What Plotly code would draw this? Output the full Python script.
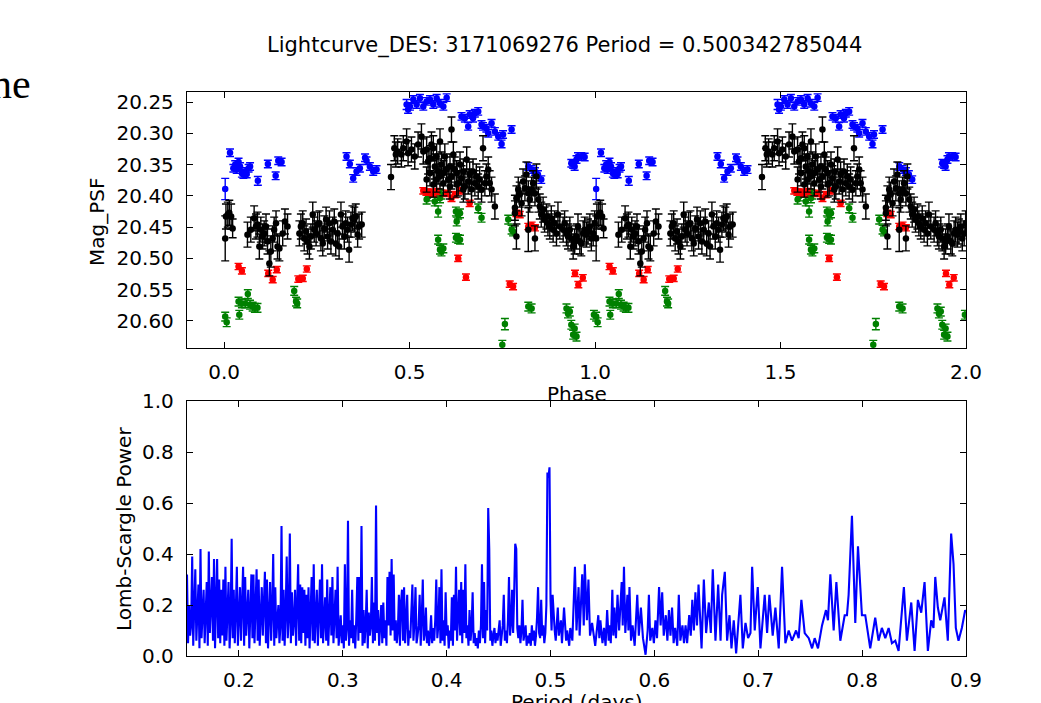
import numpy as np
import plotly.graph_objects as go

TITLE = "Lightcurve_DES: 3171069276 Period = 0.500342785044"

# ---------------- light curve (folded phase in [0,1), drawn at phase and phase+1) ----------------
# (phase, Mag_PSF, error)
blue_pts = [
    (0.003, 20.389, 0.017), (0.016, 20.331, 0.006), (0.025, 20.356, 0.006), (0.030, 20.350, 0.006),
    (0.034, 20.358, 0.006), (0.039, 20.346, 0.006), (0.043, 20.353, 0.006), (0.048, 20.364, 0.006),
    (0.052, 20.366, 0.006), (0.057, 20.361, 0.006), (0.061, 20.365, 0.006), (0.066, 20.356, 0.006),
    (0.070, 20.353, 0.006), (0.091, 20.376, 0.007), (0.118, 20.349, 0.006), (0.139, 20.368, 0.006),
    (0.146, 20.344, 0.006), (0.155, 20.346, 0.006),
    (0.330, 20.337, 0.006), (0.339, 20.349, 0.006), (0.348, 20.372, 0.006), (0.357, 20.361, 0.006),
    (0.366, 20.356, 0.006), (0.380, 20.339, 0.006), (0.384, 20.344, 0.006), (0.393, 20.353, 0.006),
    (0.402, 20.361, 0.006), (0.411, 20.358, 0.006),
    (0.492, 20.254, 0.008), (0.496, 20.262, 0.006), (0.501, 20.257, 0.006), (0.510, 20.246, 0.006),
    (0.519, 20.254, 0.006), (0.528, 20.244, 0.006), (0.537, 20.257, 0.006), (0.546, 20.249, 0.006),
    (0.555, 20.246, 0.006), (0.564, 20.254, 0.006), (0.573, 20.244, 0.006), (0.582, 20.252, 0.006),
    (0.591, 20.257, 0.006), (0.600, 20.243, 0.006),
    (0.640, 20.273, 0.006), (0.649, 20.276, 0.006), (0.658, 20.289, 0.006), (0.662, 20.270, 0.006),
    (0.671, 20.276, 0.006), (0.676, 20.268, 0.006), (0.685, 20.265, 0.006), (0.694, 20.286, 0.006),
    (0.698, 20.289, 0.006), (0.707, 20.292, 0.006), (0.712, 20.300, 0.006), (0.721, 20.284, 0.006),
    (0.730, 20.297, 0.006), (0.739, 20.305, 0.006), (0.748, 20.317, 0.006), (0.752, 20.302, 0.006),
    (0.775, 20.294, 0.006),
    (0.820, 20.353, 0.006), (0.829, 20.358, 0.006), (0.838, 20.361, 0.006), (0.846, 20.366, 0.006),
    (0.855, 20.374, 0.006),
    (0.936, 20.348, 0.006), (0.941, 20.350, 0.006), (0.945, 20.353, 0.006), (0.950, 20.342, 0.006),
    (0.954, 20.337, 0.006), (0.963, 20.337, 0.006), (0.972, 20.338, 0.006),
]

red_pts = [
    (0.039, 20.513, 0.005), (0.048, 20.520, 0.005),
    (0.119, 20.524, 0.005), (0.131, 20.534, 0.005), (0.142, 20.518, 0.005),
    (0.200, 20.533, 0.005), (0.212, 20.532, 0.005), (0.223, 20.517, 0.005),
    (0.537, 20.392, 0.005), (0.546, 20.394, 0.005), (0.555, 20.394, 0.005), (0.564, 20.396, 0.005),
    (0.573, 20.393, 0.005), (0.600, 20.396, 0.005), (0.613, 20.404, 0.005), (0.622, 20.398, 0.005),
    (0.636, 20.392, 0.005), (0.662, 20.412, 0.005),
    (0.631, 20.500, 0.005), (0.652, 20.530, 0.005),
    (0.770, 20.541, 0.005), (0.779, 20.545, 0.005),
    (0.788, 20.428, 0.005), (0.797, 20.430, 0.005), (0.820, 20.449, 0.005), (0.829, 20.447, 0.005),
    (0.838, 20.451, 0.005),
    (0.946, 20.524, 0.005), (0.955, 20.542, 0.005), (0.967, 20.531, 0.005),
]

green_pts = [
    (0.003, 20.593, 0.007), (0.007, 20.602, 0.007),
    (0.039, 20.569, 0.007), (0.041, 20.590, 0.007), (0.048, 20.572, 0.007), (0.057, 20.572, 0.007),
    (0.064, 20.557, 0.007), (0.070, 20.574, 0.007), (0.077, 20.577, 0.007), (0.083, 20.579, 0.007),
    (0.090, 20.579, 0.007),
    (0.189, 20.552, 0.007), (0.194, 20.569, 0.007), (0.197, 20.572, 0.007),
    (0.546, 20.406, 0.007), (0.550, 20.401, 0.007), (0.568, 20.409, 0.007), (0.577, 20.396, 0.007),
    (0.577, 20.425, 0.009), (0.582, 20.404, 0.007), (0.586, 20.398, 0.007),
    (0.577, 20.470, 0.007), (0.582, 20.486, 0.007), (0.586, 20.489, 0.007), (0.591, 20.484, 0.007),
    (0.625, 20.425, 0.007), (0.627, 20.441, 0.007), (0.631, 20.430, 0.007), (0.636, 20.428, 0.007),
    (0.625, 20.467, 0.007), (0.631, 20.469, 0.007), (0.636, 20.470, 0.007),
    (0.685, 20.420, 0.007), (0.694, 20.435, 0.007),
    (0.750, 20.638, 0.007), (0.757, 20.605, 0.009),
    (0.766, 20.438, 0.007), (0.775, 20.454, 0.007), (0.779, 20.457, 0.007),
    (0.820, 20.577, 0.007), (0.829, 20.580, 0.007),
    (0.923, 20.580, 0.007), (0.927, 20.588, 0.007), (0.932, 20.585, 0.007), (0.936, 20.606, 0.007),
    (0.941, 20.622, 0.007), (0.945, 20.612, 0.007), (0.950, 20.625, 0.007), (0.997, 20.590, 0.007),
]

black_pts = [
    (0.003, 20.468, 0.036), (0.005, 20.433, 0.020), (0.010, 20.430, 0.020), (0.014, 20.427, 0.020),
    (0.019, 20.433, 0.020), (0.023, 20.452, 0.015), (0.063, 20.462, 0.020), (0.072, 20.454, 0.020),
    (0.081, 20.436, 0.020), (0.086, 20.449, 0.020), (0.090, 20.446, 0.020), (0.095, 20.481, 0.020),
    (0.099, 20.454, 0.020), (0.104, 20.465, 0.020), (0.108, 20.460, 0.020), (0.113, 20.449, 0.020),
    (0.117, 20.473, 0.020), (0.122, 20.508, 0.020), (0.126, 20.489, 0.025), (0.131, 20.468, 0.020),
    (0.135, 20.454, 0.020), (0.140, 20.444, 0.020), (0.144, 20.481, 0.020), (0.149, 20.484, 0.020),
    (0.158, 20.460, 0.020), (0.164, 20.441, 0.020), (0.171, 20.449, 0.020),
    (0.203, 20.460, 0.020), (0.207, 20.449, 0.020), (0.212, 20.444, 0.020), (0.216, 20.468, 0.020),
    (0.221, 20.457, 0.020), (0.225, 20.473, 0.020), (0.230, 20.481, 0.020), (0.234, 20.465, 0.020),
    (0.239, 20.430, 0.020), (0.243, 20.454, 0.020), (0.248, 20.460, 0.020), (0.252, 20.446, 0.020),
    (0.257, 20.444, 0.020), (0.261, 20.468, 0.020), (0.266, 20.476, 0.020), (0.270, 20.452, 0.020),
    (0.275, 20.438, 0.020), (0.279, 20.465, 0.020), (0.284, 20.444, 0.020), (0.288, 20.473, 0.020),
    (0.293, 20.454, 0.020), (0.297, 20.441, 0.020), (0.301, 20.476, 0.020), (0.306, 20.460, 0.020),
    (0.310, 20.481, 0.020), (0.315, 20.430, 0.020), (0.319, 20.449, 0.020), (0.324, 20.465, 0.020),
    (0.328, 20.444, 0.020), (0.333, 20.454, 0.020), (0.337, 20.486, 0.020), (0.342, 20.446, 0.020),
    (0.346, 20.436, 0.020), (0.351, 20.438, 0.020), (0.355, 20.433, 0.020), (0.360, 20.462, 0.020),
    (0.364, 20.449, 0.020), (0.371, 20.446, 0.020),
    (0.450, 20.370, 0.020), (0.459, 20.324, 0.020), (0.463, 20.334, 0.020), (0.468, 20.329, 0.020),
    (0.478, 20.334, 0.020), (0.483, 20.324, 0.020), (0.492, 20.313, 0.020), (0.496, 20.332, 0.020),
    (0.505, 20.326, 0.020), (0.514, 20.337, 0.020), (0.523, 20.318, 0.020), (0.532, 20.305, 0.020),
    (0.537, 20.329, 0.020), (0.546, 20.326, 0.020), (0.550, 20.345, 0.020), (0.555, 20.340, 0.020),
    (0.559, 20.318, 0.020), (0.564, 20.324, 0.020), (0.568, 20.353, 0.020), (0.573, 20.337, 0.020),
    (0.577, 20.361, 0.020), (0.582, 20.313, 0.020), (0.582, 20.369, 0.020), (0.586, 20.350, 0.020),
    (0.591, 20.364, 0.020), (0.595, 20.337, 0.020), (0.600, 20.358, 0.020), (0.604, 20.374, 0.020),
    (0.609, 20.353, 0.020), (0.613, 20.294, 0.020), (0.613, 20.369, 0.020), (0.618, 20.334, 0.020),
    (0.622, 20.358, 0.020), (0.627, 20.364, 0.020), (0.631, 20.380, 0.020), (0.636, 20.350, 0.020),
    (0.640, 20.372, 0.020), (0.645, 20.361, 0.020), (0.649, 20.385, 0.020), (0.654, 20.342, 0.020),
    (0.658, 20.377, 0.020), (0.662, 20.366, 0.020), (0.667, 20.390, 0.020), (0.671, 20.361, 0.020),
    (0.676, 20.380, 0.020), (0.680, 20.369, 0.020), (0.685, 20.385, 0.020), (0.689, 20.374, 0.020),
    (0.694, 20.390, 0.020), (0.698, 20.324, 0.020), (0.703, 20.380, 0.020), (0.707, 20.369, 0.020),
    (0.712, 20.358, 0.020), (0.716, 20.380, 0.020), (0.721, 20.390, 0.020), (0.730, 20.417, 0.020),
    (0.546, 20.374, 0.020), (0.555, 20.364, 0.020), (0.564, 20.382, 0.020), (0.573, 20.374, 0.020),
    (0.591, 20.380, 0.020), (0.609, 20.385, 0.020), (0.627, 20.382, 0.020), (0.645, 20.390, 0.020),
    (0.784, 20.419, 0.020), (0.788, 20.404, 0.020), (0.793, 20.390, 0.020), (0.797, 20.398, 0.020),
    (0.802, 20.412, 0.020), (0.806, 20.377, 0.020), (0.811, 20.388, 0.020), (0.815, 20.366, 0.020),
    (0.820, 20.396, 0.020), (0.824, 20.406, 0.020), (0.829, 20.390, 0.020), (0.833, 20.380, 0.020),
    (0.838, 20.396, 0.020), (0.842, 20.369, 0.020), (0.847, 20.406, 0.020), (0.851, 20.417, 0.020),
    (0.855, 20.430, 0.020), (0.860, 20.422, 0.020), (0.864, 20.438, 0.020), (0.869, 20.433, 0.020),
    (0.873, 20.444, 0.020), (0.878, 20.449, 0.020), (0.882, 20.436, 0.020), (0.887, 20.454, 0.020),
    (0.891, 20.444, 0.020), (0.896, 20.460, 0.020), (0.900, 20.430, 0.020), (0.905, 20.449, 0.020),
    (0.784, 20.428, 0.020), (0.788, 20.465, 0.020), (0.820, 20.454, 0.035), (0.838, 20.468, 0.020),
    (0.914, 20.454, 0.020), (0.918, 20.444, 0.020), (0.923, 20.460, 0.020), (0.927, 20.465, 0.020),
    (0.932, 20.454, 0.020), (0.936, 20.468, 0.020), (0.941, 20.481, 0.020), (0.945, 20.473, 0.020),
    (0.950, 20.465, 0.020), (0.954, 20.449, 0.020), (0.959, 20.473, 0.020), (0.963, 20.476, 0.020),
    (0.968, 20.460, 0.020), (0.972, 20.454, 0.020), (0.977, 20.462, 0.020), (0.981, 20.457, 0.020),
    (0.986, 20.449, 0.020), (0.990, 20.468, 0.020), (0.995, 20.460, 0.020), (0.999, 20.444, 0.020),
]

phase_ticks = [0.0, 0.5, 1.0, 1.5, 2.0]
phase_labels = ["0.0", "0.5", "1.0", "1.5", "2.0"]
mag_ticks = [20.25, 20.30, 20.35, 20.40, 20.45, 20.50, 20.55, 20.60]
mag_labels = ["20.25", "20.30", "20.35", "20.40", "20.45", "20.50", "20.55", "20.60"]

# ---------------- Lomb-Scargle periodogram ----------------
period_days = [
    0.150, 0.151, 0.152, 0.153, 0.154, 0.155, 0.156, 0.157, 0.158, 0.159,
    0.160, 0.161, 0.162, 0.163, 0.164, 0.165, 0.166, 0.167, 0.168, 0.169,
    0.170, 0.171, 0.172, 0.173, 0.174, 0.175, 0.176, 0.177, 0.178, 0.179,
    0.180, 0.181, 0.182, 0.183, 0.184, 0.185, 0.186, 0.187, 0.188, 0.189,
    0.190, 0.191, 0.192, 0.193, 0.194, 0.195, 0.196, 0.197, 0.198, 0.199,
    0.200, 0.201, 0.202, 0.203, 0.204, 0.205, 0.206, 0.207, 0.208, 0.209,
    0.210, 0.211, 0.212, 0.213, 0.214, 0.215, 0.216, 0.217, 0.218, 0.219,
    0.220, 0.221, 0.222, 0.223, 0.224, 0.225, 0.226, 0.227, 0.228, 0.229,
    0.230, 0.231, 0.232, 0.233, 0.234, 0.235, 0.236, 0.237, 0.238, 0.239,
    0.240, 0.241, 0.242, 0.243, 0.244, 0.245, 0.246, 0.247, 0.248, 0.249,
    0.250, 0.251, 0.252, 0.253, 0.254, 0.255, 0.256, 0.257, 0.258, 0.259,
    0.260, 0.261, 0.262, 0.263, 0.264, 0.265, 0.266, 0.267, 0.268, 0.269,
    0.270, 0.271, 0.272, 0.273, 0.274, 0.275, 0.276, 0.277, 0.278, 0.279,
    0.280, 0.281, 0.282, 0.283, 0.284, 0.285, 0.286, 0.287, 0.288, 0.289,
    0.290, 0.291, 0.292, 0.293, 0.294, 0.295, 0.296, 0.297, 0.298, 0.299,
    0.300, 0.301, 0.302, 0.303, 0.304, 0.305, 0.306, 0.307, 0.308, 0.309,
    0.310, 0.311, 0.312, 0.313, 0.314, 0.315, 0.316, 0.317, 0.318, 0.319,
    0.320, 0.321, 0.322, 0.323, 0.324, 0.325, 0.326, 0.327, 0.328, 0.329,
    0.330, 0.331, 0.332, 0.333, 0.334, 0.335, 0.336, 0.337, 0.338, 0.339,
    0.340, 0.341, 0.342, 0.343, 0.344, 0.345, 0.346, 0.347, 0.348, 0.349,
    0.350, 0.351, 0.352, 0.353, 0.354, 0.355, 0.356, 0.357, 0.358, 0.359,
    0.360, 0.361, 0.362, 0.363, 0.364, 0.365, 0.366, 0.367, 0.368, 0.369,
    0.370, 0.371, 0.372, 0.373, 0.374, 0.375, 0.376, 0.377, 0.378, 0.379,
    0.380, 0.381, 0.382, 0.383, 0.384, 0.385, 0.386, 0.387, 0.388, 0.389,
    0.390, 0.391, 0.392, 0.393, 0.394, 0.395, 0.396, 0.397, 0.398, 0.399,
    0.400, 0.401, 0.402, 0.403, 0.404, 0.405, 0.406, 0.407, 0.408, 0.409,
    0.410, 0.411, 0.412, 0.413, 0.414, 0.415, 0.416, 0.417, 0.418, 0.419,
    0.420, 0.421, 0.422, 0.423, 0.424, 0.425, 0.426, 0.427, 0.428, 0.429,
    0.430, 0.431, 0.432, 0.433, 0.434, 0.435, 0.436, 0.437, 0.438, 0.439,
    0.440, 0.441, 0.442, 0.443, 0.444, 0.445, 0.446, 0.447, 0.448, 0.449,
    0.450, 0.451, 0.452, 0.453, 0.454, 0.455, 0.456, 0.457, 0.458, 0.459,
    0.460, 0.461, 0.462, 0.463, 0.464, 0.465, 0.466, 0.467, 0.468, 0.469,
    0.470, 0.471, 0.472, 0.473, 0.474, 0.475, 0.476, 0.477, 0.478, 0.479,
    0.480, 0.481, 0.482, 0.483, 0.484, 0.485, 0.486, 0.487, 0.488, 0.489,
    0.490, 0.491, 0.492, 0.493, 0.494, 0.495, 0.496, 0.497, 0.498, 0.499,
    0.500,
    0.501, 0.502, 0.504, 0.505, 0.507, 0.508, 0.510, 0.511, 0.513, 0.515,
    0.516, 0.518, 0.519, 0.521, 0.5235, 0.525, 0.527, 0.528, 0.5305, 0.532,
    0.533, 0.535, 0.5365, 0.538, 0.540, 0.541, 0.543, 0.546, 0.547, 0.548,
    0.550, 0.5515, 0.553, 0.5545, 0.556, 0.557, 0.558, 0.5595, 0.5605, 0.5615,
    0.563, 0.5645, 0.566, 0.5685, 0.5695, 0.5707, 0.572, 0.574, 0.575, 0.576,
    0.5775, 0.579, 0.581, 0.5835, 0.585, 0.587, 0.589, 0.5915, 0.5935, 0.5947,
    0.596, 0.598, 0.5995, 0.601, 0.6025, 0.6045, 0.606, 0.6075, 0.609, 0.611,
    0.6125, 0.614, 0.6155, 0.617, 0.6185, 0.620, 0.622, 0.6235, 0.625, 0.627,
    0.6285, 0.630, 0.6315, 0.6335, 0.635, 0.6365, 0.638, 0.6395, 0.641, 0.6425,
    0.6454, 0.6476, 0.6498, 0.6524, 0.6543, 0.6562, 0.6588, 0.6614, 0.6637, 0.6652,
    0.6678, 0.6700, 0.6723, 0.6742, 0.6764, 0.6787, 0.6828, 0.6851, 0.6877, 0.6902,
    0.6925, 0.6941, 0.6966, 0.6995, 0.7021, 0.7062, 0.7085, 0.7107, 0.7139, 0.7165,
    0.7197, 0.7229, 0.7261, 0.7293, 0.7325, 0.7364, 0.7389, 0.7415, 0.7447, 0.7486,
    0.7518, 0.7543, 0.7575, 0.7614, 0.7652, 0.7671, 0.7694, 0.7726, 0.7752, 0.7790,
    0.7832, 0.7854, 0.7870, 0.7902, 0.7934, 0.7960, 0.7998, 0.8030, 0.8078, 0.8126,
    0.8158, 0.8190, 0.8223, 0.8255, 0.8287, 0.8319, 0.8351, 0.8402, 0.8431, 0.8473,
    0.8505, 0.8537, 0.8569, 0.8601, 0.8633, 0.8665, 0.8687, 0.8704, 0.8729, 0.8752,
    0.8793, 0.8825, 0.8857, 0.8880, 0.8902, 0.8928, 0.8960, 0.8992, 0.9000,
]

ls_power = [
    .32, .05, .20, .08, .12, .39, .04, .18, .34, .06,
    .15, .28, .03, .42, .07, .17, .26, .05, .14, .29,
    .04, .41, .09, .19, .31, .06, .38, .03, .16, .38,
    .07, .30, .05, .26, .08, .30, .04, .35, .06, .20,
    .29, .03, .14, .46, .07, .26, .05, .18, .35, .04,
    .13, .27, .06, .21, .35, .04, .31, .08, .15, .26,
    .03, .17, .32, .07, .32, .05, .19, .34, .06, .30,
    .04, .15, .27, .08, .20, .33, .05, .30, .03, .16,
    .29, .06, .18, .40, .04, .27, .07, .14, .20, .05,
    .12, .51, .06, .26, .04, .17, .39, .07, .15, .48,
    .05, .25, .08, .14, .26, .04, .18, .36, .06, .28,
    .05, .27, .09, .26, .04, .24, .07, .27, .03, .16,
    .31, .06, .36, .05, .15, .26, .04, .19, .30, .07,
    .36, .05, .14, .23, .06, .30, .04, .17, .27, .08,
    .31, .05, .13, .26, .07, .35, .04, .10, .16, .05,
    .12, .03, .36, .06, .11, .53, .04, .14, .07, .26,
    .05, .12, .03, .15, .31, .06, .31, .09, .51, .04,
    .18, .05, .12, .26, .03, .17, .08, .12, .31, .05,
    .21, .06, .59, .09, .18, .04, .12, .20, .05, .21,
    .07, .14, .04, .31, .12, .33, .08, .38, .10, .32,
    .06, .14, .05, .10, .24, .04, .21, .26, .06, .27,
    .05, .12, .24, .04, .10, .07, .17, .28, .06, .13,
    .27, .05, .08, .12, .24, .04, .15, .30, .06, .09,
    .19, .05, .10, .04, .08, .16, .05, .11, .06, .14,
    .30, .07, .12, .27, .05, .34, .06, .14, .04, .25,
    .08, .12, .03, .10, .06, .23, .04, .24, .10, .35,
    .06, .15, .26, .08, .29, .05, .26, .09, .36, .07,
    .12, .04, .18, .06, .11, .25, .05, .09, .04, .07,
    .03, .10, .05, .12, .36, .07, .29, .05, .18, .10,
    .58, .42, .06, .10, .04, .08, .11, .05, .09, .06,
    .11, .14, .04, .08, .12, .24, .06, .10, .05, .14,
    .31, .08, .13, .26, .09, .25, .44, .42, .11, .07,
    .12, .05, .10, .22, .06, .09, .12, .04, .08, .05,
    .09, .04, .12, .06, .10, .04, .08, .15, .27, .09,
    .07, .22, .08, .12, .05, .09, .20, .72, .70, .74,
    .22,
    .10, .24, .10, .06, .19, .08, .14, .05, .19, .06,
    .10, .04, .11, .06, .35, .10, .27, .08, .32, .12,
    .36, .14, .30, .08, .13, .10, .04, .16, .07, .14,
    .05, .11, .04, .18, .06, .12, .05, .26, .08, .19,
    .07, .24, .10, .29, .12, .35, .09, .24, .10, .27,
    .06, .12, .04, .24, .08, .19, .07, .005, .10, .24,
    .06, .11, .05, .14, .07, .27, .12, .25, .08, .16,
    .06, .18, .08, .19, .05, .11, .04, .24, .06, .12,
    .05, .12, .05, .16, .08, .22, .10, .25, .12, .28,
    .03, .30, .09, .21, .09, .34, .06, .28, .06, .24,
    .33, .06, .16, .03, .14, .01, .24, .03, .13, .07,
    .09, .35, .10, .27, .03, .24, .09, .24, .08, .19,
    .03, .35, .05, .10, .06, .10, .07, .22, .09, .07,
    .03, .07, .03, .12, .18, .14, .32, .10, .29, .06,
    .16, .16, .24, .55, .13, .43, .16, .16, .03, .15,
    .06, .11, .07, .11, .05, .06, .02, .27, .06, .21,
    .02, .22, .17, .29, .02, .14, .11, .31, .19, .14,
    .23, .06, .48, .36, .11, .06, .11, .18, .17,
]

period_ticks = [0.2, 0.3, 0.4, 0.5, 0.6, 0.7, 0.8, 0.9]
period_labels = ["0.2", "0.3", "0.4", "0.5", "0.6", "0.7", "0.8", "0.9"]
power_ticks = [0.0, 0.2, 0.4, 0.6, 0.8, 1.0]
power_labels = ["0.0", "0.2", "0.4", "0.6", "0.8", "1.0"]

# ---------------- figure ----------------
W, H = 1041, 703
ML, MR, MT, MB = 187, 75, 92, 47
PW = W - ML - MR
PH = H - MT - MB


def px2x(px):
    return (px - ML) / PW


def px2y(py):
    return (H - MB - py) / PH


FONT = "DejaVu Sans"
fig = go.Figure()

series = [
    (blue_pts, "#0000ff"),
    (green_pts, "#008000"),
    (red_pts, "#ff0000"),
    (black_pts, "#000000"),
]
for pts, color in series:
    ph = np.array([p[0] for p in pts])
    mag = np.array([p[1] for p in pts])
    err = np.array([p[2] for p in pts])
    fig.add_trace(go.Scatter(
        x=np.concatenate([ph, ph + 1.0]),
        y=np.concatenate([mag, mag]),
        mode="markers",
        marker=dict(color=color, size=6.5, line=dict(width=0)),
        error_y=dict(type="data", array=np.concatenate([err, err]), color=color,
                     thickness=1.4, width=4),
        xaxis="x", yaxis="y", showlegend=False, hoverinfo="skip",
    ))

fig.add_trace(go.Scatter(
    x=period_days, y=ls_power, mode="lines",
    line=dict(color="#0000ff", width=2.1),
    xaxis="x2", yaxis="y2", showlegend=False, hoverinfo="skip",
))

axis_style = dict(
    showline=True, mirror="allticks", linecolor="black", linewidth=1.3,
    ticks="inside", ticklen=6, tickwidth=1.3, tickcolor="black",
    showgrid=False, zeroline=False,
    tickfont=dict(family=FONT, size=20, color="black"),
)

top_bottom = px2y(348.3)
bot_top = px2y(401)

fig.update_layout(
    width=W, height=H, autosize=False,
    margin=dict(l=ML, r=MR, t=MT, b=MB, pad=0),
    paper_bgcolor="white", plot_bgcolor="white",
    showlegend=False,
    xaxis=dict(domain=[0, 1], range=[-0.1, 2.0], tickvals=phase_ticks, ticktext=phase_labels,
               anchor="y", ticklabelstandoff=6, **axis_style),
    yaxis=dict(domain=[top_bottom, 1], range=[20.6437, 20.234], tickvals=mag_ticks,
               ticktext=mag_labels, anchor="x", ticklabelstandoff=8, **axis_style),
    xaxis2=dict(domain=[0, 1], range=[0.15, 0.9], tickvals=period_ticks, ticktext=period_labels,
                anchor="y2", ticklabelstandoff=6, **axis_style),
    yaxis2=dict(domain=[0, bot_top], range=[0, 1.0], tickvals=power_ticks, ticktext=power_labels,
                anchor="x2", ticklabelstandoff=8, **axis_style),
)

annots = [
    dict(text=TITLE, x=px2x(564.5), y=px2y(45), size=21),
    dict(text="Phase", x=px2x(577), y=px2y(394), size=20),
    dict(text="Period (days)", x=px2x(577), y=px2y(702), size=20),
    dict(text="Mag_PSF", x=px2x(97), y=px2y(222), size=20, angle=-90),
    dict(text="Lomb-Scargle Power", x=px2x(124), y=px2y(529), size=20, angle=-90),
]
for a in annots:
    fig.add_annotation(
        text=a["text"], x=a["x"], y=a["y"], xref="paper", yref="paper",
        xanchor="center", yanchor="middle", showarrow=False,
        textangle=a.get("angle", 0),
        font=dict(family=FONT, size=a["size"], color="black"),
    )

# fragment of surrounding page text at the left edge
fig.add_annotation(
    text="ne", x=px2x(33), y=px2y(84), xref="paper", yref="paper",
    xanchor="right", yanchor="middle", showarrow=False,
    font=dict(family="Liberation Serif", size=42, color="black"),
)

fig.write_html("out.html")
